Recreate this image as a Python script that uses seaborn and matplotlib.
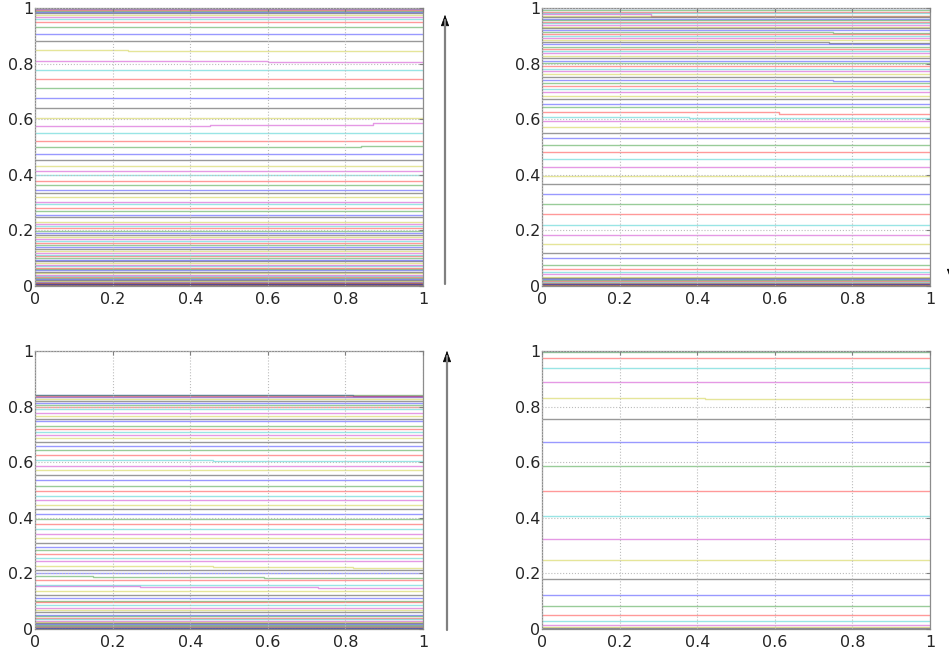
import numpy as np
import pandas as pd
import matplotlib
matplotlib.use('Agg')
import matplotlib.pyplot as plt
import seaborn as sns
from matplotlib.patches import FancyArrowPatch
from matplotlib.lines import Line2D

# contour levels of each panel, in the order they were plotted
tl_levels = [0.0, 0.001, 0.002, 0.003, 0.004, 0.005, 0.006, 0.007, 0.009, 0.011,
             0.013, 0.015, 0.018, 0.021, 0.025, 0.029, 0.033, 0.037, 0.041, 0.046,
             0.051, 0.056, 0.061, 0.066, 0.071, 0.077, 0.083, 0.089, 0.095, 0.101,
             0.107, 0.113, 0.119, 0.126, 0.133, 0.140, 0.147, 0.154, 0.161, 0.168,
             0.175, 0.183, 0.191, 0.199, 0.207, 0.215, 0.223, 0.232, 0.247, 0.255,
             0.27, 0.282, 0.294, 0.303, 0.319, 0.333, 0.345, 0.362, 0.378, 0.40,
             0.415, 0.433, 0.453, 0.474, 0.499, 0.52, 0.549, 0.577, 0.605, 0.639,
             0.675, 0.711, 0.743, 0.776, 0.809, 0.848, 0.880, 0.905, 0.93, 0.949,
             0.96, 0.968, 0.975, 0.981, 0.986, 0.990, 0.993, 0.996, 0.998, 1.0]

tr_levels = [1.0, 0.993, 0.985, 0.981, 0.977, 0.972, 0.967, 0.962, 0.957, 0.951,
             0.945, 0.939, 0.933, 0.927, 0.92, 0.913, 0.906, 0.899, 0.892, 0.885,
             0.877, 0.869, 0.861, 0.853, 0.845, 0.837, 0.828, 0.819, 0.81, 0.801,
             0.792, 0.782, 0.772, 0.762, 0.752, 0.741, 0.73, 0.719, 0.708, 0.697,
             0.685, 0.673, 0.656, 0.643, 0.627, 0.609, 0.592, 0.571, 0.551, 0.531,
             0.507, 0.481, 0.456, 0.429, 0.397, 0.366, 0.33, 0.294, 0.258, 0.22,
             0.185, 0.15, 0.12, 0.1, 0.074, 0.06, 0.05, 0.042, 0.034, 0.028,
             0.024, 0.02, 0.017, 0.014, 0.012, 0.01, 0.008, 0.006, 0.004, 0.002, 0.0]

bl_levels = [0.843, 0.841, 0.839, 0.836, 0.833, 0.827, 0.82, 0.813, 0.806, 0.80,
             0.79, 0.778, 0.766, 0.756, 0.747, 0.73, 0.72, 0.71, 0.698, 0.687,
             0.673, 0.657, 0.643, 0.626, 0.609, 0.585, 0.573, 0.553, 0.535, 0.515,
             0.497, 0.48, 0.463, 0.446, 0.43, 0.412, 0.395, 0.378, 0.36, 0.343,
             0.327, 0.31, 0.296, 0.283, 0.27, 0.257, 0.245, 0.225, 0.214, 0.203,
             0.191, 0.175, 0.159, 0.153, 0.138, 0.124, 0.111, 0.099, 0.096, 0.085,
             0.074, 0.067, 0.06, 0.052, 0.045, 0.04, 0.035, 0.03, 0.026, 0.022,
             0.018, 0.015, 0.012, 0.01, 0.008, 0.006, 0.004, 0.002, 0.0]

br_levels = [1.0, 0.997, 0.976, 0.94, 0.889, 0.831, 0.756, 0.674, 0.587, 0.498,
             0.407, 0.324, 0.247, 0.18, 0.122, 0.082, 0.049, 0.028, 0.013, 0.007,
             0.002, 0.0]

# levels that jump part way across: start level -> (x of jumps, level after each jump)
tl_steps = {0.848: ([0.24], [0.846]),
            0.809: ([0.60], [0.806]),
            0.577: ([0.45, 0.87], [0.580, 0.585]),
            0.549: ([0.20, 0.44], [0.551, 0.549]),
            0.499: ([0.84], [0.502]),
            0.743: ([0.96], [0.746])}
tr_steps = {0.977: ([0.28], [0.972]),
            0.937: ([0.64], [0.934]),
            0.913: ([0.75], [0.910]),
            0.877: ([0.74], [0.874]),
            0.741: ([0.75], [0.737]),
            0.627: ([0.61], [0.620]),
            0.609: ([0.38], [0.604])}
bl_steps = {0.843: ([0.82], [0.839]),
            0.609: ([0.46], [0.604]),
            0.257: ([0.25], [0.255]),
            0.225: ([0.46, 0.82], [0.222, 0.219]),
            0.191: ([0.15, 0.59], [0.188, 0.184]),
            0.153: ([0.27, 0.73], [0.151, 0.148])}
br_steps = {0.831: ([0.42], [0.828])}

colour_cycle = ['#0000ff', '#008000', '#ff0000', '#00bfbf', '#bf00bf', '#bfbf00', '#000000']
tick_vals = [0, 0.2, 0.4, 0.6, 0.8, 1]
tick_labels = ['0', '0.2', '0.4', '0.6', '0.8', '1']


def build_frame(levels, steps):
    rows = []
    for i, y0 in enumerate(levels):
        xs, ys = [0.0], [y0]
        if y0 in steps:
            bx, by = steps[y0]
            xs += bx
            ys += by
        xs.append(1.0)
        ys.append(ys[-1])
        for x, y in zip(xs, ys):
            rows.append({'x': x, 'y': y, 'line': f'L{i:03d}'})
    return pd.DataFrame(rows)


sns.set_style('white')
plt.rcParams['font.family'] = ['DejaVu Sans']

fig = plt.figure(figsize=(9.49, 6.57), dpi=100)
W, H = 949, 657

panels = [
    (35, 8, tl_levels, tl_steps),
    (542, 8, tr_levels, tr_steps),
    (35, 351, bl_levels, bl_steps),
    (542, 351, br_levels, br_steps),
]

for left, top, levels, steps in panels:
    ax = fig.add_axes([left / W, 1 - (top + 278) / H, 388 / W, 278 / H])
    df = build_frame(levels, steps)
    pal = {f'L{i:03d}': colour_cycle[i % 7] for i in range(len(levels))}
    sns.lineplot(data=df, x='x', y='y', hue='line', palette=pal, estimator=None,
                 sort=False, legend=False, drawstyle='steps-post',
                 linewidth=1.0, alpha=0.4, ax=ax)
    ax.set_xlim(0, 1)
    ax.set_ylim(0, 1)
    ax.set_xticks(tick_vals)
    ax.set_yticks(tick_vals)
    ax.set_xticklabels(tick_labels)
    ax.set_yticklabels(tick_labels)
    ax.set_xlabel('')
    ax.set_ylabel('')
    ax.grid(True, linestyle=':', color='#bcbcbc', linewidth=0.8)
    ax.set_axisbelow(False)
    ax.tick_params(direction='in', length=3, width=0.8, color='#808080',
                   labelsize=11.5, top=True, right=True)
    ax.tick_params(axis='x', pad=4)
    ax.tick_params(axis='y', pad=1)
    for sp in ax.spines.values():
        sp.set_color('#8c8c8c')
        sp.set_linewidth(0.9)


# arrows beside the panels (pixel positions converted to figure fractions)
def add_arrow(x, y_start, y_tip):
    xf = x / W
    y0 = 1 - y_start / H
    y1 = 1 - y_tip / H
    direction = 1 if y1 > y0 else -1
    fig.add_artist(Line2D([xf, xf], [y0, y1 - direction * 8 / H],
                          transform=fig.transFigure, color='#808080', linewidth=1.6))
    fig.add_artist(FancyArrowPatch((xf, y1 - direction * 14 / H), (xf, y1),
                                   transform=fig.transFigure,
                                   arrowstyle='-|>,head_length=0.6,head_width=0.22',
                                   mutation_scale=12, color='black', linewidth=0.5))


add_arrow(445, 284, 12)
add_arrow(447, 630, 348)
add_arrow(951, 12, 283)

fig.savefig('out.png', dpi=100)
